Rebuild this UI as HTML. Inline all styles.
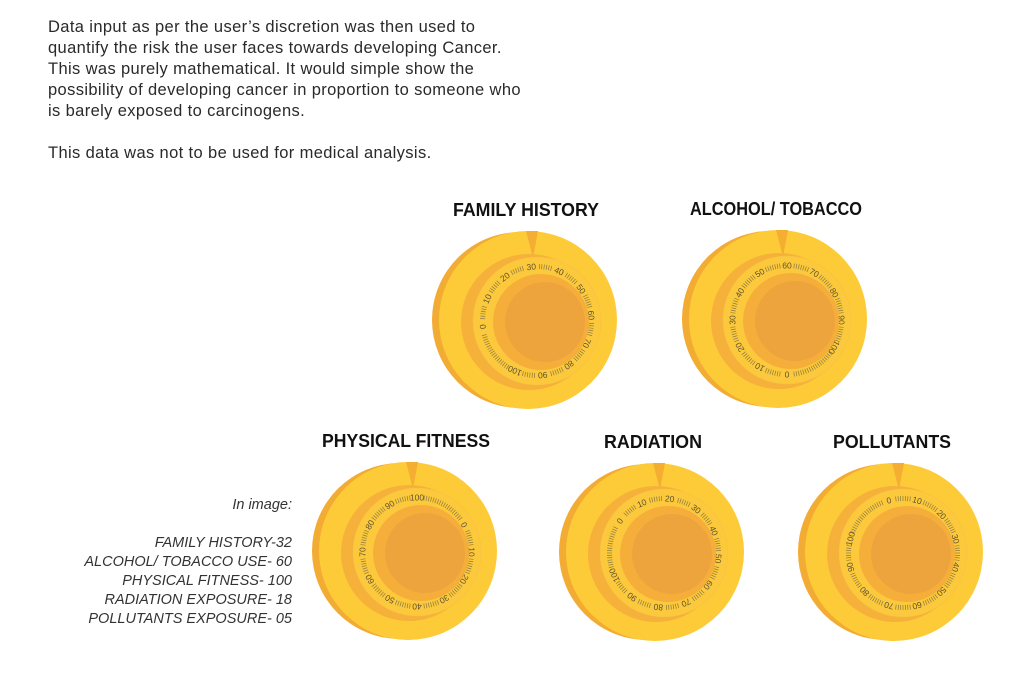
<!DOCTYPE html>
<html><head><meta charset="utf-8"><style>
body{margin:0;background:#fff;width:1024px;height:700px;overflow:hidden;position:relative;font-family:"Liberation Sans",sans-serif}
#intro{position:absolute;left:48px;top:17px;font-size:16.5px;letter-spacing:0.37px;line-height:21px;color:#2a2a2a;margin:0}
#legend{position:absolute;right:732px;top:496px;font-size:14.5px;line-height:19px;font-style:italic;color:#333;text-align:right}
svg{position:absolute;left:0;top:0}
</style></head><body>
<p id="intro">Data input as per the user’s discretion was then used to<br>quantify the risk the user faces towards developing Cancer.<br>This was purely mathematical. It would simple show the<br>possibility of developing cancer in proportion to someone who<br>is barely exposed to carcinogens.<br><br>This data was not to be used for medical analysis.</p>
<div id="legend">In image:<br><br>FAMILY HISTORY-32<br>ALCOHOL/ TOBACCO USE- 60<br>PHYSICAL FITNESS- 100<br>RADIATION EXPOSURE- 18<br>POLLUTANTS EXPOSURE- 05</div>
<svg id="chart" width="1024" height="700"></svg>
<script>
const categories=["FAMILY HISTORY","ALCOHOL/ TOBACCO","PHYSICAL FITNESS","RADIATION","POLLUTANTS"];
const values=[32,60,100,18,5];
const tickLabels=[0,10,20,30,40,50,60,70,80,90,100];
const centers=[[528,320],[778,319],[408,551],[655,552],[894,552]];
const titleWidths=[146,172,168,98,118];
const NS="http://www.w3.org/2000/svg";
const svg=document.getElementById('chart');
function mk(tag,attrs,parent){const e=document.createElementNS(NS,tag);for(const k in attrs)e.setAttribute(k,attrs[k]);(parent||svg).appendChild(e);return e;}
function angleOf(v,val){return (v-val)*3;}
categories.forEach((cat,i)=>{
  const [cx,cy]=centers[i];const val=values[i];
  const g=mk('g',{});
  
  
  const t=mk('text',{x:cx-2,y:cy-104,'text-anchor':'middle','font-family':'"Liberation Sans",sans-serif','font-weight':'bold','font-size':'18','fill':'#111',textLength:titleWidths[i],lengthAdjust:'spacingAndGlyphs'},g);
  t.textContent=cat;
  
  
  mk('circle',{cx:cx-8,cy:cy,r:88,fill:'#F2AB33'},g);
  mk('circle',{cx:cx,cy:cy,r:89,fill:'#FDCB38'},g);
  const p=mk('polygon',{points:`${cx-2},${cy-89} ${cx+10},${cy-89} ${cx+5},${cy-62}`,fill:'#F4AE32'},g);
  
  
  mk('circle',{cx:cx+1,cy:cy+2,r:68,fill:'#F5B13A'},g);
  const rx=cx+9,ry=cy+1;
  mk('circle',{cx:rx,cy:ry,r:64,fill:'#FCC93C',stroke:'#F6C046','stroke-width':'0.6'},g);
  for(let a=0;a<360;a+=2.5){
    let near=false;
    tickLabels.forEach(v=>{let d=Math.abs(((angleOf(v,val)-a)%360+540)%360-180);if(d<7)near=true;});
    if(near)continue;
    const r=a*Math.PI/180;
    mk('line',{x1:rx+Math.sin(r)*52,y1:ry-Math.cos(r)*52,x2:rx+Math.sin(r)*57,y2:ry-Math.cos(r)*57,stroke:'#8a7a40','stroke-width':'0.7'},g);
  }
  tickLabels.forEach(v=>{
    const a=angleOf(v,val);const r=a*Math.PI/180;
    const x=rx+Math.sin(r)*54.5,y=ry-Math.cos(r)*54.5;
    const tl=mk('text',{x:x,y:y,'text-anchor':'middle','dominant-baseline':'central','font-size':'8.5','fill':'#5e5230',transform:`rotate(${a} ${x} ${y})`},g);
    tl.textContent=v;
    
    
  });
  mk('circle',{cx:cx+13,cy:cy+2,r:48,fill:'#F6AE3B'},g);
  mk('circle',{cx:cx+17,cy:cy+2,r:40,fill:'#EDA43C'},g);
});
</script>
</body></html>
